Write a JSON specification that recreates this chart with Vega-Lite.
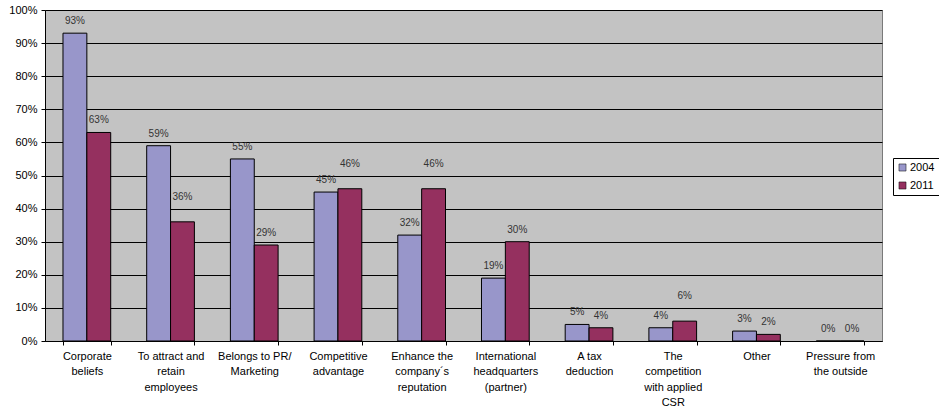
{
  "$schema": "https://vega.github.io/schema/vega-lite/v6.json",
  "autosize": {"type": "none"},
  "width": 837,
  "height": 331,
  "padding": {"left": 45, "top": 10, "right": 57, "bottom": 71},
  "background": "white",
  "config": {
    "font": "Liberation Sans",
    "view": {"fill": "#C3C3C3", "stroke": "#7a7a7a", "strokeWidth": 1}
  },
  "data": {
    "values": [
      {"category": "Corporate|beliefs", "year": "2004", "value": 0.93},
      {"category": "Corporate|beliefs", "year": "2011", "value": 0.63},
      {"category": "To attract and|retain|employees", "year": "2004", "value": 0.59},
      {"category": "To attract and|retain|employees", "year": "2011", "value": 0.36},
      {"category": "Belongs to PR/|Marketing", "year": "2004", "value": 0.55},
      {"category": "Belongs to PR/|Marketing", "year": "2011", "value": 0.29},
      {"category": "Competitive|advantage", "year": "2004", "value": 0.45},
      {"category": "Competitive|advantage", "year": "2011", "value": 0.46},
      {"category": "Enhance the|company´s|reputation", "year": "2004", "value": 0.32},
      {"category": "Enhance the|company´s|reputation", "year": "2011", "value": 0.46},
      {"category": "International|headquarters|(partner)", "year": "2004", "value": 0.19},
      {"category": "International|headquarters|(partner)", "year": "2011", "value": 0.30},
      {"category": "A tax|deduction", "year": "2004", "value": 0.05},
      {"category": "A tax|deduction", "year": "2011", "value": 0.04},
      {"category": "The|competition|with applied|CSR", "year": "2004", "value": 0.04},
      {"category": "The|competition|with applied|CSR", "year": "2011", "value": 0.06},
      {"category": "Other", "year": "2004", "value": 0.03},
      {"category": "Other", "year": "2011", "value": 0.02},
      {"category": "Pressure from|the outside", "year": "2004", "value": 0},
      {"category": "Pressure from|the outside", "year": "2011", "value": 0}
    ]
  },
  "encoding": {
    "x": {
      "field": "category",
      "type": "nominal",
      "sort": null,
      "scale": {"paddingInner": 0.43, "paddingOuter": 0.215},
      "axis": {
        "title": null,
        "labelAngle": 0,
        "labelExpr": "split(datum.label, '|')",
        "labelFontSize": 11,
        "labelColor": "#000000",
        "labelPadding": 5,
        "labelLineHeight": 15.5,
        "labelLimit": 0,
        "tickBand": "extent",
        "tickColor": "#000000",
        "tickSize": 4,
        "domainColor": "#000000",
        "labelFont": "Liberation Sans"
      }
    },
    "xOffset": {"field": "year", "type": "nominal", "scale": {"paddingInner": 0, "paddingOuter": 0}},
    "y": {
      "field": "value",
      "type": "quantitative",
      "scale": {"domain": [0, 1], "nice": false},
      "axis": {
        "title": null,
        "values": [0, 0.1, 0.2, 0.3, 0.4, 0.5, 0.6, 0.7, 0.8, 0.9, 1],
        "format": ".0%",
        "labelFontSize": 11,
        "labelColor": "#000000",
        "gridColor": "#000000",
        "gridWidth": 1,
        "tickColor": "#000000",
        "tickSize": 4,
        "domainColor": "#000000",
        "labelPadding": 4
      }
    }
  },
  "layer": [
    {
      "mark": {"type": "bar", "stroke": "#000000", "strokeWidth": 1},
      "encoding": {
        "color": {
          "field": "year",
          "type": "nominal",
          "scale": {"domain": ["2004", "2011"], "range": ["#9896CA", "#95305F"]},
          "legend": {
            "title": null,
            "orient": "none",
            "legendX": 848,
            "legendY": 148,
            "symbolType": "square",
            "symbolSize": 50,
            "symbolStrokeColor": "#000000",
            "symbolStrokeWidth": 0.5,
            "labelFontSize": 11,
            "labelColor": "#000000",
            "strokeColor": "#000000",
            "fillColor": "#ffffff",
            "padding": 4,
            "rowPadding": 6,
            "labelOffset": 2
          }
        }
      }
    },
    {
      "transform": [
        {"filter": "!(datum.year == '2011' && indexof(['To attract and|retain|employees', 'Competitive|advantage', 'Enhance the|company´s|reputation', 'The|competition|with applied|CSR'], datum.category) >= 0)"}
      ],
      "mark": {"type": "text", "baseline": "middle", "dy": -12, "fontSize": 10, "color": "#333333"},
      "encoding": {
        "text": {"field": "value", "type": "quantitative", "format": ".0%"}
      }
    },
    {
      "transform": [
        {"filter": "datum.year == '2011' && indexof(['To attract and|retain|employees', 'Competitive|advantage', 'Enhance the|company´s|reputation', 'The|competition|with applied|CSR'], datum.category) >= 0"}
      ],
      "mark": {"type": "text", "baseline": "middle", "dy": -25, "fontSize": 10, "color": "#333333"},
      "encoding": {
        "text": {"field": "value", "type": "quantitative", "format": ".0%"}
      }
    }
  ]
}
